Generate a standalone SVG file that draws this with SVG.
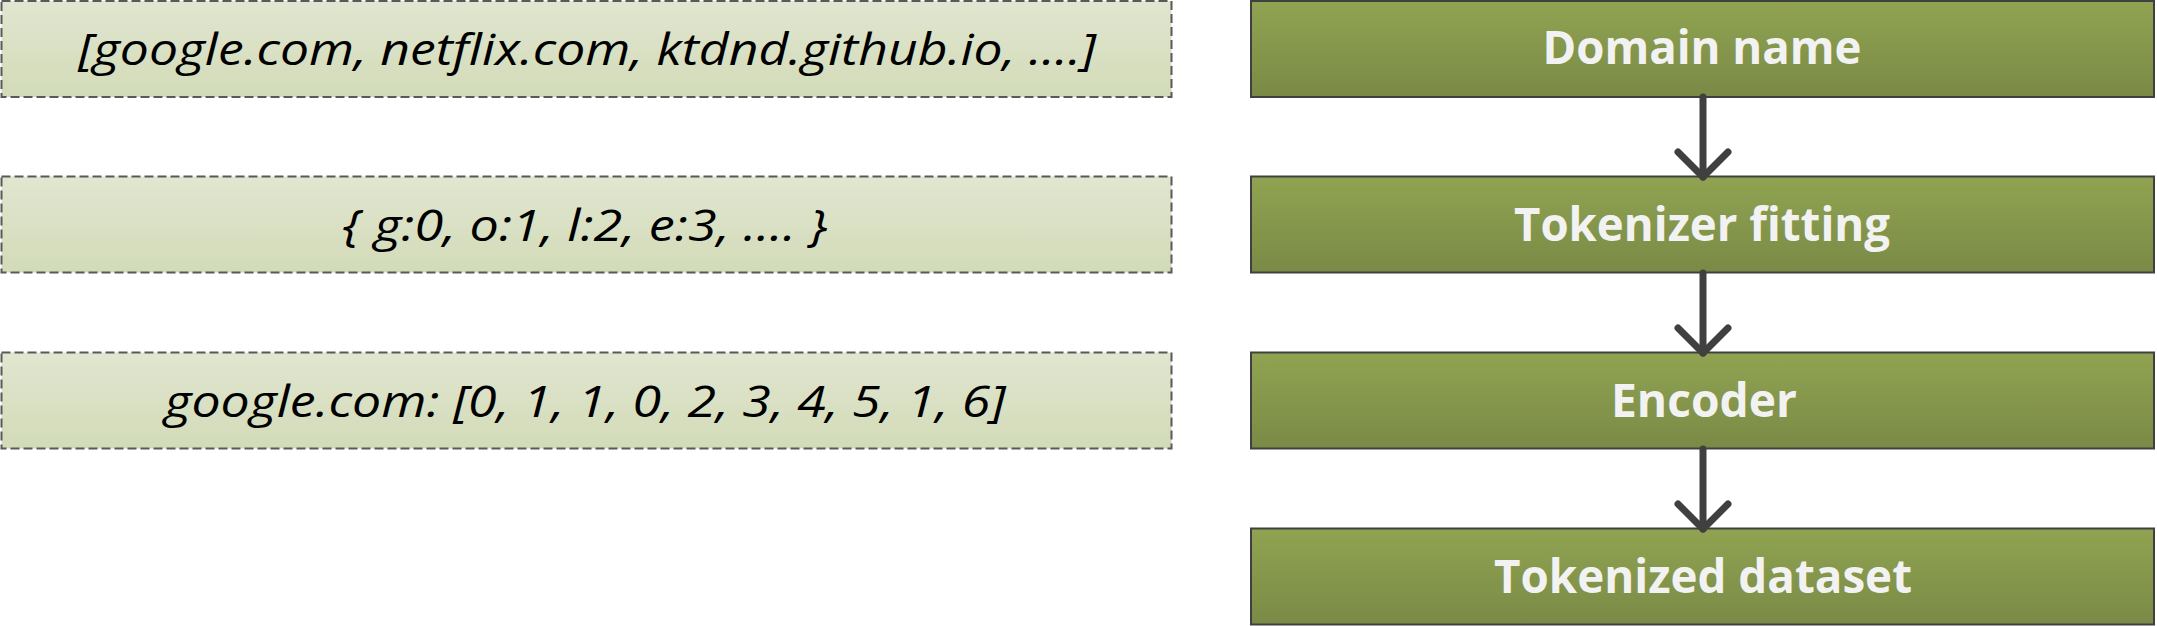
<svg xmlns="http://www.w3.org/2000/svg" width="2157" height="626" viewBox="0 0 2157 626">
  <defs>
    <linearGradient id="gLeft" x1="0" y1="0" x2="0" y2="1">
      <stop offset="0" stop-color="#E1E6D0"/>
      <stop offset="1" stop-color="#D2DBB8"/>
    </linearGradient>
    <linearGradient id="gRight" x1="0" y1="0" x2="0" y2="1">
      <stop offset="0" stop-color="#90A351"/>
      <stop offset="1" stop-color="#7A8A46"/>
    </linearGradient>
    <marker id="arrow" markerUnits="userSpaceOnUse" markerWidth="70" markerHeight="70" refX="35" refY="35" orient="auto" viewBox="0 0 70 70">
      <polyline points="10,10 35,35 10,60" fill="none" stroke="#404040" stroke-width="7" stroke-linecap="round" stroke-linejoin="round"/>
    </marker>
    <style>
      .lbox { fill: url(#gLeft); stroke: #595959; stroke-width: 2; stroke-dasharray: 9 4; }
      .rbox { fill: url(#gRight); stroke: #404040; stroke-width: 2; }
      .ltxt { font-family: "Open Sans", "Liberation Sans", sans-serif; font-style: italic; font-size: 44px; fill: #000; text-anchor: middle; }
      .rtxt { font-family: "Open Sans", "Liberation Sans", sans-serif; font-weight: bold; font-size: 47px; fill: #F2F2F2; text-anchor: middle; }
      .conn { stroke: #404040; stroke-width: 7; stroke-linecap: round; fill: none; }
    </style>
  </defs>

  <g id="left1">
    <rect class="lbox" x="1.5" y="1" width="1170" height="96"/>
    <text class="ltxt" x="587" y="65" textLength="1018" lengthAdjust="spacingAndGlyphs">[google.com, netflix.com, ktdnd.github.io, ….]</text>
  </g>
  <g id="left2">
    <rect class="lbox" x="1.5" y="176.5" width="1170" height="96"/>
    <text class="ltxt" x="585" y="241" textLength="485" lengthAdjust="spacingAndGlyphs">{ g:0, o:1, l:2, e:3, …. }</text>
  </g>
  <g id="left3">
    <rect class="lbox" x="1.5" y="352.5" width="1170" height="96"/>
    <text class="ltxt" x="585" y="417" textLength="841" lengthAdjust="spacingAndGlyphs">google.com: [0, 1, 1, 0, 2, 3, 4, 5, 1, 6]</text>
  </g>

  <g id="domain">
    <rect class="rbox" x="1251" y="1" width="903" height="96"/>
    <text class="rtxt" x="1702" y="64" textLength="319" lengthAdjust="spacingAndGlyphs">Domain name</text>
  </g>
  <g id="tokenizer">
    <rect class="rbox" x="1251" y="176.5" width="903" height="96"/>
    <text class="rtxt" x="1702" y="241" textLength="376" lengthAdjust="spacingAndGlyphs">Tokenizer fitting</text>
  </g>
  <g id="encoder">
    <rect class="rbox" x="1251" y="352.5" width="903" height="96"/>
    <text class="rtxt" x="1704" y="417" textLength="186" lengthAdjust="spacingAndGlyphs">Encoder</text>
  </g>
  <g id="dataset">
    <rect class="rbox" x="1251" y="528.5" width="903" height="96"/>
    <text class="rtxt" x="1703" y="593" textLength="418" lengthAdjust="spacingAndGlyphs">Tokenized dataset</text>
  </g>

  <g id="connectors">
    <line class="conn" x1="1703" y1="97" x2="1703" y2="177" marker-end="url(#arrow)"/>
    <line class="conn" x1="1703" y1="273" x2="1703" y2="353" marker-end="url(#arrow)"/>
    <line class="conn" x1="1703" y1="449" x2="1703" y2="529" marker-end="url(#arrow)"/>
  </g>
</svg>
